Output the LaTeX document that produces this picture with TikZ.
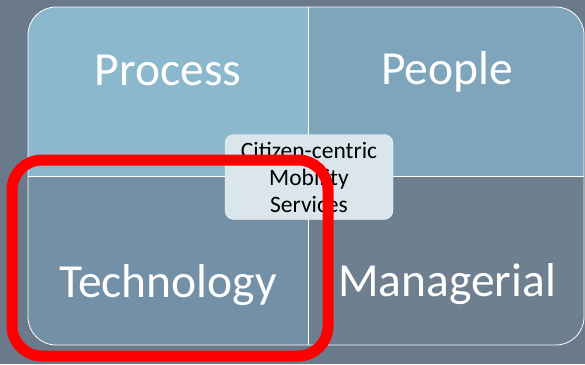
\documentclass[tikz,border=0pt]{standalone}
\usepackage{fontspec}
\setmainfont{Carlito}
\usetikzlibrary{positioning}
\definecolor{slidebg}{HTML}{6A7A8A}
\definecolor{procfill}{HTML}{8BB8CC}
\definecolor{peopfill}{HTML}{7FA5BC}
\definecolor{techfill}{HTML}{7390A6}
\definecolor{mgmtfill}{HTML}{6E7F90}
\definecolor{hubfill}{HTML}{DAE6EC}
\tikzset{qlabel/.style={text=white,font=\fontsize{47.5}{50}\selectfont,inner sep=0pt,anchor=base},
hub/.style={draw=white!85!hubfill,fill=hubfill,rounded corners=9pt,minimum width=168pt,minimum height=85pt,align=center,font=\fontsize{23.5}{27}\selectfont,inner sep=0pt}}

\begin{document}
\begin{tikzpicture}[x=1pt,y=-1pt,focus/.style={draw=red,line width=11pt,rounded corners=30pt}]
			\useasboundingbox[fill=slidebg] (0,0) rectangle (585,364);
			\coordinate (tl) at (28,7);
			\coordinate (br) at (584,345);
			\coordinate (mid) at (308,176);

			\begin{scope}
				\clip[rounded corners=28pt] (tl) rectangle (br);
				\fill[procfill] (tl) rectangle (mid);
				\fill[peopfill] (308,7) rectangle (584,176);
				\fill[techfill] (28,176) rectangle (308,345);
				\fill[mgmtfill] (mid) rectangle (br);
			\end{scope}
			\draw[white,line width=0.8pt,rounded corners=28pt] (tl) rectangle (br);
			\draw[white,line width=0.8pt] (308,7) -- (308,345);
			\draw[white,line width=0.8pt] (28,176) -- (584,176);

			\node[qlabel] (process) at (168,85) {Process};
			\node[qlabel] (people) at (447,84) {People};
			\node[qlabel] (technology) at (168,297) {Technology};
			\node[qlabel] (managerial) at (447,296) {Managerial};

			\node[hub] (cms) at (309,177) {Citizen-centric\\Mobility\\Services};

			\draw[focus] (12,160) rectangle (328,356);
		\end{tikzpicture}
\end{document}
